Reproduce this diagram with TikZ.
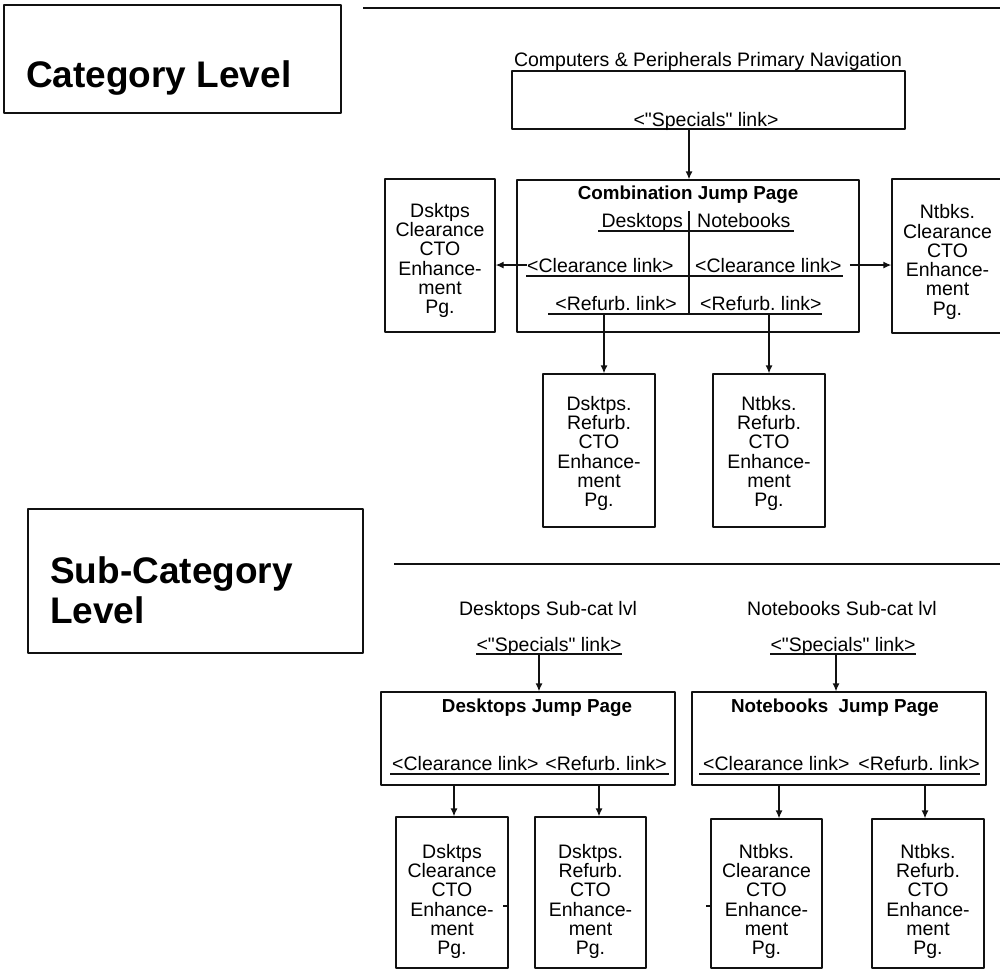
\documentclass[tikz,border=0pt]{standalone}
\usepackage{fontspec}
\setmainfont{Liberation Sans}
\usetikzlibrary{arrows.meta,fit}
\definecolor{ink}{HTML}{111111}
\newcommand{\qt}{\textquotedbl}
\tikzset{fig/.style={line join=round,>={Latex[length=8pt,width=7pt]}},
  pgbox/.style={draw=ink,line width=1.3pt,inner sep=0pt},
  pgtxt/.style={inner sep=0pt,align=center,font=\fontsize{19.5}{19.3}\selectfont},
  lvlbox/.style={draw=ink,line width=1.8pt,inner sep=0pt},
  lvltxt/.style={inner sep=0pt,font=\fontsize{37}{40}\selectfont\bfseries},
  txt/.style={inner sep=0pt,font=\fontsize{19.5}{19.5}\selectfont},
  hd/.style={inner sep=0pt,font=\fontsize{18.8}{19}\selectfont\bfseries},
  arr/.style={draw=ink,line width=1.3pt,->},
  rule/.style={draw=ink,line width=1.3pt}}

\begin{document}
\frenchspacing
\begin{tikzpicture}[fig,x=1pt,y=-1pt]
  \useasboundingbox (0,0) rectangle (1000,971);
  \clip (0,0) rectangle (1000,971);
  \fill[white] (0,0) rectangle (1000,971);
  \node[lvlbox,fit={(4,5)(341,113)}] (catbox) {};
  \node[lvltxt,anchor=base west] (cattxt) at (26,88) {Category Level};
  \node[lvlbox,fit={(28,509)(363,653)}] (subbox) {};
  \node[lvltxt,anchor=base west] (subtxt) at (50,583) {Sub-Category};
  \node[lvltxt,anchor=base west] (subtxtb) at (50,623) {Level};
  \draw[rule,line width=2pt] (363,8) -- (1000,8);
  \draw[rule,line width=2pt] (394,564) -- (1000,564);

  \node[txt,anchor=base] (navttl) at (708,67) {Computers \& Peripherals Primary Navigation};
  \node[pgbox,fit={(512,71)(905,129)}] (nav) {};
  \node[txt,anchor=base] (navlnk) at (706,126) {<\qt Specials\qt\ link>};
  \node[pgbox,fit={(517,180)(859,332)}] (combo) {};
  \coordinate (jdiv) at (689,211);
  \draw[arr] (nav.south -| jdiv) -- (combo.north -| jdiv);
  \node[hd,anchor=base] (combottl) at (688,199) {Combination Jump Page};
  \node[txt,anchor=base east] (cdesk) at (683,227) {Desktops};
  \node[txt,anchor=base west] (cnote) at (697,227) {Notebooks};
  \draw[rule] (598,231) -- (794,231);
  \draw[rule] (jdiv) -- (689,314);
  \node[txt,anchor=base west] (dclrlnk) at (527,272) {<Clearance link>};
  \node[txt,anchor=base west] (nclrlnk) at (695,272) {<Clearance link>};
  \draw[rule] (526,276) -- (843,276);
  \node[txt,anchor=base east] (dreflnk) at (677,310) {<Refurb. link>};
  \node[txt,anchor=base west] (nreflnk) at (700,310) {<Refurb. link>};
  \draw[rule] (548,314) -- (822,314);

  \node[pgbox,fit={(385,179)(495,332)}] (dclrpg) {};
  \node[pgtxt] (dclrtx) at ([yshift=-5pt]dclrpg.center) {Dsktps\\Clearance\\CTO\\Enhance-\\ment\\Pg.};
  \node[pgbox,fit={(892,179)(1003,333)}] (nclrpg) {};
  \node[pgtxt] (nclrtx) at ([yshift=-6pt]nclrpg.center) {Ntbks.\\Clearance\\CTO\\Enhance-\\ment\\Pg.};
  \draw[arr] (dclrlnk.west) -- (dclrlnk.west -| dclrpg.east);
  \draw[arr] ([xshift=8pt]nclrlnk.east) -- (nclrlnk.east -| nclrpg.west);
  \node[pgbox,fit={(543,374)(655,527)}] (drefpg) {};
  \node[pgtxt] (dreftx) at ([yshift=-3pt]drefpg.center) {Dsktps.\\Refurb.\\CTO\\Enhance-\\ment\\Pg.};
  \node[pgbox,fit={(713,374)(825,527)}] (nrefpg) {};
  \node[pgtxt] (nreftx) at ([yshift=-3pt]nrefpg.center) {Ntbks.\\Refurb.\\CTO\\Enhance-\\ment\\Pg.};
  \coordinate (ddrop) at (604,314); \coordinate (ndrop) at (769,314);
  \draw[arr] (ddrop) -- (ddrop |- drefpg.north);
  \draw[arr] (ndrop) -- (ndrop |- nrefpg.north);

  \node[txt,anchor=base] (dsubttl) at (548,615) {Desktops Sub-cat lvl};
  \node[txt,anchor=base] (nsubttl) at (842,615) {Notebooks Sub-cat lvl};
  \node[txt,anchor=base] (dspc) at (549,651) {<\qt Specials\qt\ link>};
  \node[txt,anchor=base] (nspc) at (843,651) {<\qt Specials\qt\ link>};
  \draw[rule] ([yshift=-3pt]dspc.base west) -- ([yshift=-3pt]dspc.base east);
  \draw[rule] ([yshift=-3pt]nspc.base west) -- ([yshift=-3pt]nspc.base east);
  \node[pgbox,fit={(381,692)(675,785)}] (djump) {};
  \node[pgbox,fit={(692,692)(986,785)}] (njump) {};
  \coordinate (dsdrop) at (539,654); \coordinate (nsdrop) at (836,654);
  \draw[arr] (dsdrop) -- (dsdrop |- djump.north);
  \draw[arr] (nsdrop) -- (nsdrop |- njump.north);
  \node[hd,anchor=base] (djttl) at (537,712) {Desktops Jump Page};
  \node[hd,anchor=base] (njttl) at (835,712) {Notebooks\ \ Jump Page};
  \node[txt,anchor=base west] (djclr) at (392,770) {<Clearance link>};
  \node[txt,anchor=base east] (djref) at (667,770) {<Refurb. link>};
  \draw[rule] (390,774) -- (669,774);
  \node[txt,anchor=base west] (njclr) at (703,770) {<Clearance link>};
  \node[txt,anchor=base east] (njref) at (980,770) {<Refurb. link>};
  \draw[rule] (699,774) -- (980,774);

  \node[pgbox,fit={(396,817)(508,968)}] (dclrb) {};
  \node[pgtxt] (dclrbt) at ([yshift=-9pt]dclrb.center) {Dsktps\\Clearance\\CTO\\Enhance-\\ment\\Pg.};
  \node[pgbox,fit={(535,817)(646,968)}] (drefb) {};
  \node[pgtxt] (drefbt) at ([yshift=-9pt]drefb.center) {Dsktps.\\Refurb.\\CTO\\Enhance-\\ment\\Pg.};
  \node[pgbox,fit={(711,819)(822,968)}] (nclrb) {};
  \node[pgtxt] (nclrbt) at ([yshift=-8pt]nclrb.center) {Ntbks.\\Clearance\\CTO\\Enhance-\\ment\\Pg.};
  \node[pgbox,fit={(872,819)(984,968)}] (nrefb) {};
  \node[pgtxt] (nrefbt) at ([yshift=-8pt]nrefb.center) {Ntbks.\\Refurb.\\CTO\\Enhance-\\ment\\Pg.};
  \coordinate (da) at (454,785); \coordinate (db) at (599,785);
  \coordinate (na) at (779,785); \coordinate (nb) at (925,785);
  \draw[arr] (da) -- (da |- dclrb.north);
  \draw[arr] (db) -- (db |- drefb.north);
  \draw[arr] (na) -- (na |- nclrb.north);
  \draw[arr] (nb) -- (nb |- nrefb.north);
  \draw[rule] (503,906) -- (508,906);
  \draw[rule] (706,906) -- (711,906);
\end{tikzpicture}
\end{document}
